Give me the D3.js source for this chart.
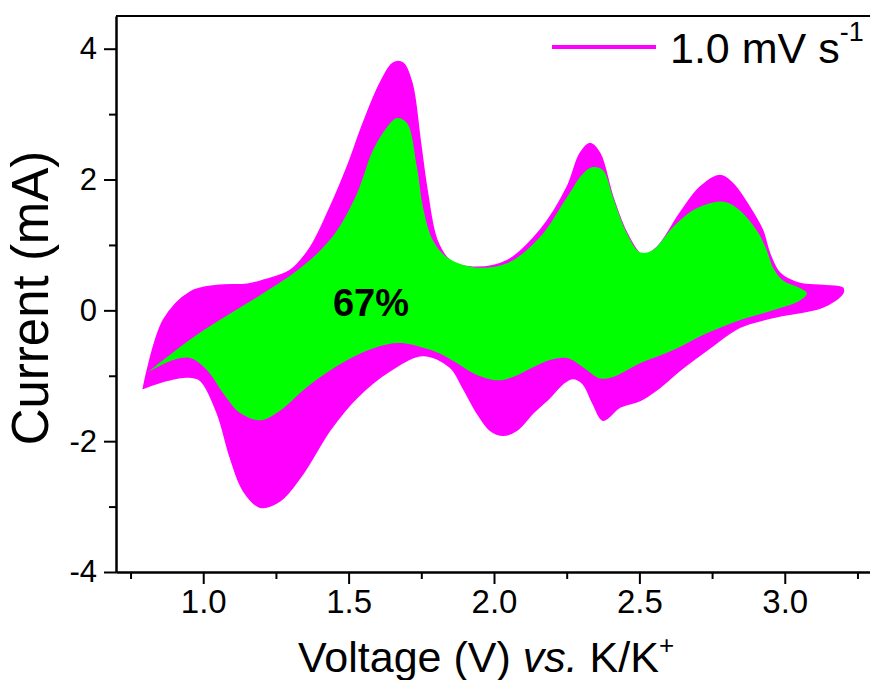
<!DOCTYPE html>
<html>
<head>
<meta charset="utf-8">
<script src="https://cdn.jsdelivr.net/npm/d3@7"></script>
<style>
  body { margin: 0; background: #fff; }
  text { font-family: "Liberation Sans", Arial, sans-serif; fill: #000; }
</style>
</head>
<body>
<svg id="chart" width="870" height="680"></svg>
<script>
// CV loops, [voltage (V), current (mA)]
// magenta = total current at 1.0 mV/s, green = capacitive part (67%)
const pinkAnodic = [
  [0.794, -1.19], [0.863, -0.15], [0.955, 0.28], [1.048, 0.38], [1.151, 0.40],
  [1.206, 0.46], [1.299, 0.61], [1.368, 0.96], [1.436, 1.57], [1.495, 2.19],
  [1.550, 2.86], [1.608, 3.47], [1.653, 3.78], [1.687, 3.78], [1.718, 3.47],
  [1.746, 2.60], [1.770, 1.83], [1.804, 1.07], [1.849, 0.76], [1.928, 0.66],
  [2.045, 0.76], [2.158, 1.22], [2.251, 1.88], [2.296, 2.40], [2.330, 2.55],
  [2.364, 2.40], [2.409, 1.73], [2.457, 1.18], [2.512, 0.84], [2.560, 0.96],
  [2.639, 1.48], [2.708, 1.88], [2.777, 2.06], [2.821, 1.94], [2.880, 1.57],
  [2.924, 1.22], [2.948, 0.87], [2.983, 0.57], [3.052, 0.41], [3.131, 0.38],
  [3.199, 0.34]
];
const pinkCathodic = [
  [3.199, 0.26], [3.131, 0.05], [2.959, -0.11], [2.845, -0.26], [2.732, -0.61],
  [2.639, -0.92], [2.570, -1.18], [2.502, -1.38], [2.433, -1.48], [2.375, -1.68],
  [2.340, -1.42], [2.306, -1.12], [2.271, -1.04], [2.237, -1.12], [2.192, -1.33],
  [2.134, -1.57], [2.079, -1.83], [2.031, -1.91], [1.986, -1.83], [1.942, -1.57],
  [1.893, -1.18], [1.849, -0.87], [1.756, -0.69], [1.643, -0.92], [1.529, -1.33],
  [1.436, -1.83], [1.344, -2.49], [1.265, -2.91], [1.196, -3.01], [1.137, -2.75],
  [1.093, -2.25], [1.048, -1.57], [0.990, -1.07], [0.945, -1.02], [0.876, -1.07]
];
const greenAnodic = [
  [0.808, -0.95], [0.966, -0.41], [1.093, -0.05], [1.206, 0.26], [1.323, 0.61],
  [1.392, 0.87], [1.460, 1.22], [1.529, 1.79], [1.584, 2.45], [1.632, 2.80],
  [1.667, 2.94], [1.701, 2.86], [1.735, 2.19], [1.756, 1.57], [1.790, 1.07],
  [1.838, 0.81], [1.928, 0.66], [2.045, 0.72], [2.158, 1.12], [2.251, 1.73],
  [2.306, 2.09], [2.340, 2.19], [2.375, 2.14], [2.409, 1.73], [2.457, 1.18],
  [2.502, 0.89], [2.546, 0.92], [2.615, 1.27], [2.684, 1.53], [2.753, 1.65],
  [2.801, 1.65], [2.845, 1.53], [2.904, 1.22], [2.938, 0.92], [2.959, 0.66],
  [2.993, 0.46], [3.052, 0.34], [3.076, 0.26]
];
const greenCathodic = [
  [3.052, 0.15], [2.959, 0.00], [2.845, -0.15], [2.732, -0.35], [2.615, -0.61],
  [2.502, -0.81], [2.409, -1.02], [2.364, -1.04], [2.306, -0.87], [2.251, -0.73],
  [2.192, -0.76], [2.134, -0.87], [2.065, -1.02], [2.010, -1.07], [1.928, -0.96],
  [1.873, -0.81], [1.814, -0.66], [1.756, -0.57], [1.667, -0.50], [1.550, -0.64],
  [1.436, -0.92], [1.344, -1.22], [1.265, -1.53], [1.196, -1.68], [1.127, -1.57],
  [1.069, -1.27], [1.014, -0.92], [0.955, -0.73], [0.897, -0.76], [0.842, -0.87]
];

const xMajor = [1.0, 1.5, 2.0, 2.5, 3.0];
const xMinor = [0.75, 1.25, 1.75, 2.25, 2.75, 3.25];
const yMajor = [-4, -2, 0, 2, 4];
const yMinor = [-3, -1, 1, 3];
const legendLabel = '1.0 mV s';
const ratioLabel = '67%';

const svg = d3.select('#chart');
const plot = { left: 116, right: 872, top: 16, bottom: 572 };

const x = d3.scaleLinear().domain([0.7, 3.3]).range([plot.left, plot.right]);
const y = d3.scaleLinear().domain([-4, 4.5]).range([plot.bottom, plot.top]);

const line = d3.line()
  .x((d) => x(d[0]))
  .y((d) => y(d[1]))
  .curve(d3.curveCatmullRom.alpha(0.5));

//loops: go out on the anodic branch, back on the cathodic one
svg.append('path')
  .attr('d', line(pinkAnodic.concat(pinkCathodic, [pinkAnodic[0]])) + 'Z')
  .attr('fill', '#ff00ff')
  .attr('stroke', '#ff00ff')
  .attr('stroke-width', 1.5);

svg.append('path')
  .attr('d', line(greenAnodic.concat(greenCathodic, [greenAnodic[0]])) + 'Z')
  .attr('fill', '#00ff00');

// axes
const xAxis = svg.append('g').attr('transform', `translate(0, ${plot.bottom})`);
xAxis.call(d3.axisBottom(x).tickValues(xMajor).tickFormat(d3.format('.1f'))
  .tickSize(12).tickSizeOuter(0).tickPadding(6));
xAxis.append('g').call(d3.axisBottom(x).tickValues(xMinor).tickFormat('')
  .tickSize(7).tickSizeOuter(0));

const yAxis = svg.append('g').attr('transform', `translate(${plot.left}, 0)`);
yAxis.call(d3.axisLeft(y).tickValues(yMajor).tickFormat((d) => String(d)) //plain hyphen for negatives
  .tickSize(12).tickSizeOuter(0).tickPadding(7));
yAxis.append('g').call(d3.axisLeft(y).tickValues(yMinor).tickFormat('')
  .tickSize(7).tickSizeOuter(0));

svg.selectAll('.domain').attr('stroke', '#000').attr('stroke-width', 2);
svg.selectAll('.tick line').attr('stroke', '#000').attr('stroke-width', 2);
xAxis.selectAll('.tick text').style('font-size', '33px');
yAxis.selectAll('.tick text').style('font-size', '31px');
xAxis.attr('font-family', null);
yAxis.attr('font-family', null);

// top frame line
svg.append('line')
  .attr('x1', plot.left).attr('x2', plot.right)
  .attr('y1', plot.top).attr('y2', plot.top)
  .attr('stroke', '#000').attr('stroke-width', 2);

// axis titles
const xt = svg.append('text')
  .attr('x', 298).attr('y', 672)
  .style('font-size', '43px');
xt.append('tspan').text('Voltage (V) ');
xt.append('tspan').style('font-style', 'italic').text('vs.');
xt.append('tspan').text(' K/K');
xt.append('tspan').attr('dy', -18).style('font-size', '26px').text('+');

svg.append('text')
  .attr('transform', 'translate(48, 298) rotate(-90)')
  .attr('text-anchor', 'middle')
  .style('font-size', '51px')
  .text('Current (mA)');

// legend
svg.append('line')
  .attr('x1', 552).attr('x2', 656)
  .attr('y1', 47).attr('y2', 47)
  .attr('stroke', '#ff00ff').attr('stroke-width', 4);
const lt = svg.append('text')
  .attr('x', 670).attr('y', 63)
  .style('font-size', '43px');
lt.append('tspan').text(legendLabel);
lt.append('tspan').attr('dy', -22).style('font-size', '27px').text('-1');

// capacitive ratio
svg.append('text')
  .attr('x', 371).attr('y', 316)
  .attr('text-anchor', 'middle')
  .style('font-size', '38px')
  .style('font-weight', 'bold')
  .text(ratioLabel);
</script>
</body>
</html>
